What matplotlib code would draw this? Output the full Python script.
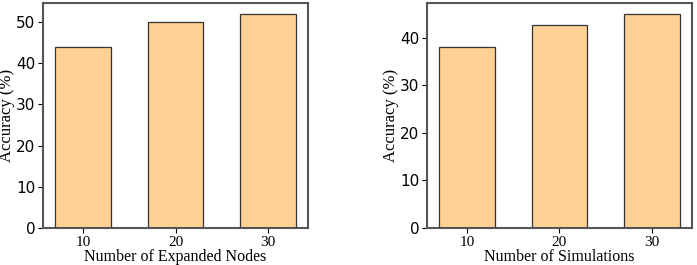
import numpy as np
import matplotlib.pyplot as plt

# data
x_labels = ['10', '20', '30']
acc_nodes = [44.0, 49.9, 52.0]
acc_sims = [38.1, 42.6, 45.0]
xlabels = ['Number of Expanded Nodes', 'Number of Simulations']

bar_color = '#FFD194'
serif = ['Liberation Serif', 'Times New Roman', 'DejaVu Serif']

fig = plt.figure(figsize=(6.97, 2.65), dpi=100)
ax1 = fig.add_axes([0.0617, 0.1396, 0.3803, 0.849])
ax2 = fig.add_axes([0.613, 0.1396, 0.3794, 0.849])

for ax, vals, xl in zip([ax1, ax2], [acc_nodes, acc_sims], xlabels):
    pos = np.arange(len(x_labels))
    ax.bar(pos, vals, width=0.6, color=bar_color,
           edgecolor='#333333', linewidth=0.9)
    ax.set_xticks(pos)
    ax.set_xticklabels(x_labels, fontfamily=serif, fontsize=11)
    ax.tick_params(axis='y', labelsize=11, pad=2)
    ax.tick_params(axis='x', pad=2)
    ax.set_xlabel(xl, fontfamily=serif, fontsize=11.5, labelpad=0)
    ax.set_ylabel('Accuracy (%)', fontfamily=serif, fontsize=12, labelpad=1)
    for s in ax.spines.values():
        s.set_color('#555555')
        s.set_linewidth(1.5)

fig.savefig('out.png', dpi=100)
